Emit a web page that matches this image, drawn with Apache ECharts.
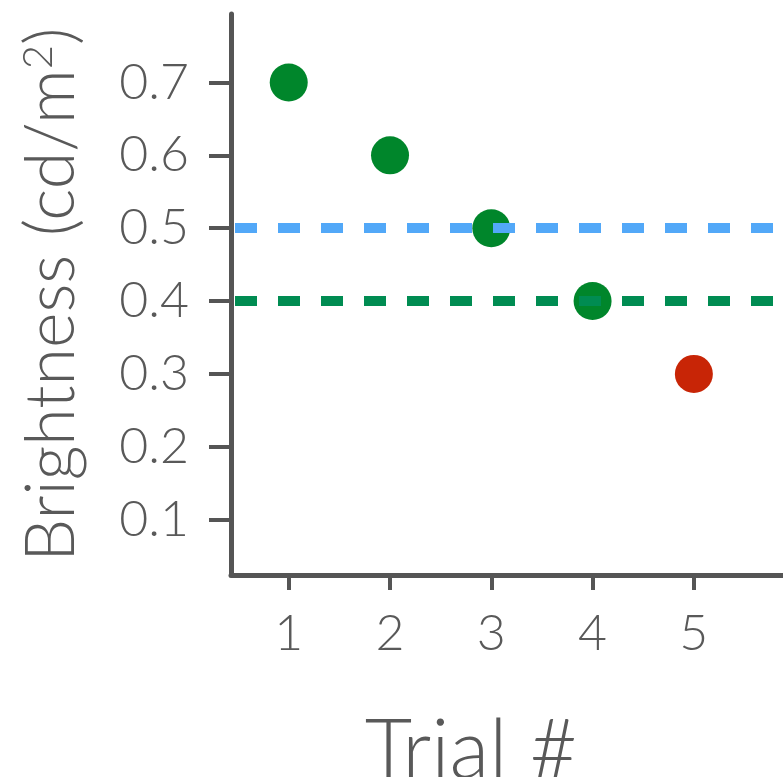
<!DOCTYPE html>
<html>
<head>
<meta charset="utf-8">
<script src="https://cdn.jsdelivr.net/npm/echarts@6/dist/echarts.min.js"></script>
<style>
  html, body { margin: 0; padding: 0; background: #fff; }
  #chart { width: 783px; height: 777px; }
</style>
</head>
<body>
<div id="chart"></div>
<script>
// data
var trials = [1, 2, 3, 4, 5];
var brightness = [0.7, 0.6, 0.5, 0.4, 0.3];
var passed = [true, true, true, true, false];
var thresholds = [0.5, 0.4];
var thresholdColors = ['#52a8f8', '#008c52'];
var yTicks = [0.1, 0.2, 0.3, 0.4, 0.5, 0.6, 0.7];
var xTicks = [1, 2, 3, 4, 5];

var textColor = '#595959';
var fontFamily = 'Lato, "Open Sans", sans-serif';

var greenPts = [], redPts = [];
for (var i = 0; i < trials.length; i++) {
  (passed[i] ? greenPts : redPts).push([trials[i], brightness[i]]);
}

var myChart = echarts.init(document.getElementById('chart'));
var option = {
  animation: false,
  grid: { left: 231, top: 14, right: 0, bottom: 202, containLabel: false, outerBoundsMode: 'none' },
  xAxis: {
    type: 'value',
    min: 0.43,
    max: 5.88,
    name: 'Trial #',
    nameLocation: 'middle',
    nameGap: 136,
    nameTextStyle: { color: textColor, fontSize: 82, fontWeight: 300, fontFamily: fontFamily, padding: [0, 72, 0, 0] },
    axisLine: { show: true, onZero: false, lineStyle: { color: '#555', width: 5 } },
    axisTick: { show: true, customValues: xTicks, length: 15, lineStyle: { color: '#555', width: 4 } },
    axisLabel: { customValues: xTicks, margin: 34, color: textColor, fontSize: 50, fontWeight: 300, fontFamily: fontFamily },
    splitLine: { show: false }
  },
  yAxis: {
    type: 'value',
    min: 0.024,
    max: 0.794,
    name: 'Brightness (cd/m{sup|2})',
    nameLocation: 'middle',
    nameGap: 144,
    nameTextStyle: {
      color: textColor, fontSize: 68, fontWeight: 300, fontFamily: fontFamily,
      rich: { sup: { color: textColor, fontSize: 42, fontWeight: 300, fontFamily: fontFamily, verticalAlign: 'top', padding: [0, 0, 28, 0] } }
    },
    axisLine: { show: true, onZero: false, lineStyle: { color: '#555', width: 5 } },
    axisTick: { show: true, customValues: yTicks, length: 22, lineStyle: { color: '#555', width: 4 } },
    axisLabel: { customValues: yTicks, margin: 42, color: textColor, fontSize: 50, fontWeight: 300, fontFamily: fontFamily },
    splitLine: { show: false }
  },
  series: [
    {
      type: 'line',
      data: [],
      z: 1,
      markLine: {
        silent: true,
        symbol: 'none',
        label: { show: false },
        data: thresholds.map(function (t, k) {
          return { yAxis: t, lineStyle: { color: thresholdColors[k], width: 10, type: [22, 21], dashOffset: -4, opacity: 1 } };
        })
      }
    },
    {
      type: 'scatter',
      z: 3,
      symbolSize: 38,
      itemStyle: { color: '#00862b', opacity: 1 },
      data: greenPts
    },
    {
      type: 'scatter',
      z: 3,
      symbolSize: 38,
      itemStyle: { color: '#c82506', opacity: 1 },
      data: redPts
    }
  ]
};
myChart.setOption(option);
</script>
</body>
</html>
